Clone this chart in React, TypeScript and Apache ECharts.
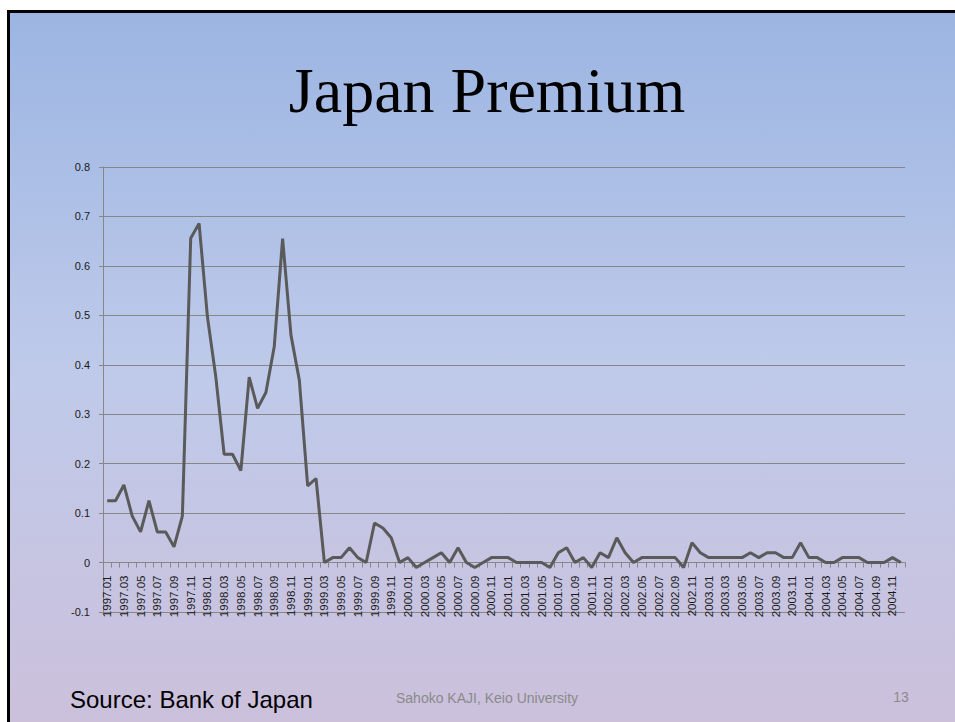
import React, { useEffect, useRef } from "react";
import * as echarts from "echarts";

const years = [1997, 1998, 1999, 2000, 2001, 2002, 2003, 2004];
const months = ["01", "02", "03", "04", "05", "06", "07", "08", "09", "10", "11", "12"];
const categories: string[] = [];
years.forEach((y) => months.forEach((m) => categories.push(`${y}.${m}`)));

const premium1997 = [0.125, 0.125, 0.157, 0.094, 0.062, 0.125, 0.062, 0.062, 0.032, 0.094, 0.656, 0.686];
const premium1998 = [0.497, 0.376, 0.219, 0.219, 0.186, 0.375, 0.312, 0.344, 0.437, 0.655, 0.46, 0.369];
const premium1999 = [0.155, 0.17, 0, 0.01, 0.01, 0.03, 0.01, 0, 0.08, 0.07, 0.05, 0];
const premium2000 = [0.01, -0.01, 0, 0.01, 0.02, 0, 0.03, 0, -0.01, 0, 0.01, 0.01];
const premium2001 = [0.01, 0, 0, 0, 0, -0.01, 0.02, 0.03, 0, 0.01, -0.01, 0.02];
const premium2002 = [0.01, 0.05, 0.02, 0, 0.01, 0.01, 0.01, 0.01, 0.01, -0.01, 0.04, 0.02];
const premium2003 = [0.01, 0.01, 0.01, 0.01, 0.01, 0.02, 0.01, 0.02, 0.02, 0.01, 0.01, 0.04];
const premium2004 = [0.01, 0.01, 0, 0, 0.01, 0.01, 0.01, 0, 0, 0, 0.01, 0];

const premium = [
  ...premium1997, ...premium1998, ...premium1999, ...premium2000,
  ...premium2001, ...premium2002, ...premium2003, ...premium2004,
];

const yMin = -0.1;
const yMax = 0.8;
const yInterval = 0.1;

const titleText = "Japan Premium";
const sourceText = "Source: Bank of Japan";
const footerText = "Sahoko KAJI, Keio University";
const pageText = "13";

const gridTop = 167;
const gridBottom = 110;
const chartHeight = 722;

export default function App() {
  const ref = useRef<HTMLDivElement>(null);
  useEffect(() => {
    document.body.style.margin = "0";
    const chart = echarts.init(ref.current!, null, { renderer: "svg" });
    const plotH = chartHeight - gridTop - gridBottom;
    const zeroOffset = -plotH * (0 - yMin) / (yMax - yMin);
    chart.setOption({
      animation: false,
      backgroundColor: "#ffffff",
      graphic: [
        {
          type: "rect",
          z: -10,
          silent: true,
          shape: { x: 8.5, y: 11.5, width: 960, height: 720 },
          style: {
            fill: {
              type: "linear",
              x: 0, y: 0, x2: 0, y2: 1,
              colorStops: [
                { offset: 0, color: "#9bb5e2" },
                { offset: 0.5, color: "#bfcaea" },
                { offset: 1, color: "#ccc0db" },
              ],
            },
            stroke: "#000000",
            lineWidth: 3,
          },
        },
        {
          type: "text",
          x: 487,
          y: 90,
          style: {
            text: titleText,
            font: "64px 'Liberation Serif'",
            fill: "#000000",
            align: "center",
            verticalAlign: "middle",
          },
        },
        {
          type: "text",
          x: 70,
          y: 699,
          style: {
            text: sourceText,
            font: "24px 'Liberation Sans'",
            fill: "#000000",
            align: "left",
            verticalAlign: "middle",
          },
        },
        {
          type: "text",
          x: 396,
          y: 698,
          style: {
            text: footerText,
            font: "14px 'Liberation Sans'",
            fill: "#8a8a8a",
            align: "left",
            verticalAlign: "middle",
          },
        },
        {
          type: "text",
          x: 901,
          y: 697,
          style: {
            text: pageText,
            font: "14px 'Liberation Sans'",
            fill: "#8a8a8a",
            align: "center",
            verticalAlign: "middle",
          },
        },
      ],
      grid: { left: 103, right: 50, top: gridTop, bottom: gridBottom, containLabel: false },
      xAxis: {
        type: "category",
        data: categories,
        boundaryGap: true,
        position: "bottom",
        offset: zeroOffset,
        axisLine: { show: true, onZero: false, lineStyle: { color: "#878787", width: 1 } },
        axisTick: { show: true, interval: 0, length: 5, lineStyle: { color: "#878787" } },
        axisLabel: {
          interval: 1,
          rotate: 90,
          margin: 13,
          fontSize: 11.5,
          fontFamily: "Liberation Sans",
          color: "#1a1a1a",
        },
        splitLine: { show: false },
      },
      yAxis: {
        type: "value",
        min: yMin,
        max: yMax,
        interval: yInterval,
        axisLine: { show: true, lineStyle: { color: "#878787", width: 1 } },
        axisTick: { show: true, length: 4, lineStyle: { color: "#878787" } },
        axisLabel: {
          margin: 13,
          fontSize: 11,
          fontFamily: "Liberation Sans",
          color: "#1a1a1a",
          formatter: (v: number) => String(Math.round(v * 10) / 10),
        },
        splitLine: { show: true, lineStyle: { color: "#878787", width: 1 } },
      },
      series: [
        {
          type: "line",
          data: premium,
          symbol: "none",
          lineStyle: { color: "#5a5a5a", width: 3 },
          itemStyle: { color: "#5a5a5a" },
          z: 5,
        },
      ],
    });
    return () => chart.dispose();
  }, []);
  return <div ref={ref} style={{ width: 955, height: 722 }} />;
}
